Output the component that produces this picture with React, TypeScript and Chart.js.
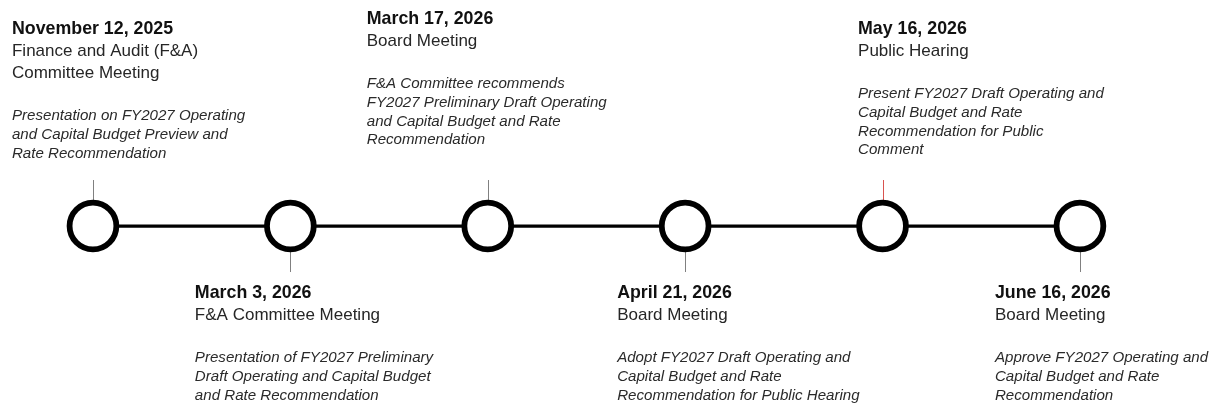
import React, { useEffect, useRef } from "react";
import { Chart, registerables } from "chart.js";

Chart.register(...registerables);

// ---- data ----
const eventDates = [
  "November 12, 2025",
  "March 3, 2026",
  "March 17, 2026",
  "April 21, 2026",
  "May 16, 2026",
  "June 16, 2026",
];

const eventTitles = [
  ["Finance and Audit (F&A)", "Committee Meeting"],
  ["F&A Committee Meeting"],
  ["Board Meeting"],
  ["Board Meeting"],
  ["Public Hearing"],
  ["Board Meeting"],
];

const eventNotes = [
  ["Presentation on FY2027 Operating", "and Capital Budget Preview and", "Rate Recommendation"],
  ["Presentation of FY2027 Preliminary", "Draft Operating and Capital Budget", "and Rate Recommendation"],
  ["F&A Committee recommends", "FY2027 Preliminary Draft Operating", "and Capital Budget and Rate", "Recommendation"],
  ["Adopt FY2027 Draft Operating and", "Capital Budget and Rate", "Recommendation for Public Hearing"],
  ["Present FY2027 Draft Operating and", "Capital Budget and Rate", "Recommendation for Public", "Comment"],
  ["Approve FY2027 Operating and", "Capital Budget and Rate", "Recommendation"],
];

const eventSide = ["above", "below", "above", "below", "above", "below"];

// ---- layout (not data) ----
const labelDx = [-81, -95.5, -121, -68, -24.5, -85];
const headingDy = [-192, 72, -202, 72, -192, 72];
const tickColors = ["#808080", "#808080", "#808080", "#808080", "#d9534f", "#808080"];

const FONT = "'Liberation Sans', Arial, sans-serif";

const labelPlugin = {
  id: "timelineLabels",
  beforeDatasetsDraw(chart: any) {
    const ctx = chart.ctx;
    const xs = chart.scales.x;
    const ys = chart.scales.y;
    const cy = ys.getPixelForValue(0);
    ctx.save();
    eventDates.forEach((_, i) => {
      const px = Math.round(xs.getPixelForValue(i)) + 0.5;
      ctx.strokeStyle = tickColors[i];
      ctx.lineWidth = 1;
      ctx.beginPath();
      if (eventSide[i] === "above") {
        ctx.moveTo(px, cy - 46);
        ctx.lineTo(px, cy - 22);
      } else {
        ctx.moveTo(px, cy + 22);
        ctx.lineTo(px, cy + 46);
      }
      ctx.stroke();
    });
    ctx.restore();
  },
  afterDatasetsDraw(chart: any) {
    const ctx = chart.ctx;
    const xs = chart.scales.x;
    const ys = chart.scales.y;
    const cy = ys.getPixelForValue(0);
    ctx.save();
    ctx.textAlign = "left";
    ctx.textBaseline = "alphabetic";
    eventDates.forEach((d, i) => {
      const x = xs.getPixelForValue(i) + labelDx[i];
      let y = cy + headingDy[i];
      ctx.fillStyle = "#111111";
      ctx.font = `bold 17.8px ${FONT}`;
      ctx.fillText(d, x, y);
      ctx.fillStyle = "#262626";
      ctx.font = `17px ${FONT}`;
      eventTitles[i].forEach((t) => {
        y += 22;
        ctx.fillText(t, x, y);
      });
      y += 42 - 18.8;
      ctx.font = `italic 15.1px ${FONT}`;
      ctx.fillStyle = "#2a2a2a";
      eventNotes[i].forEach((t) => {
        y += 18.8;
        ctx.fillText(t, x, y);
      });
    });
    ctx.restore();
  },
};

export default function App() {
  const ref = useRef<HTMLCanvasElement | null>(null);
  useEffect(() => {
    if (!ref.current) return;
    const pts = eventDates.map((_, i) => ({ x: i, y: 0 }));
    const chart = new Chart(ref.current, {
      type: "scatter",
      data: {
        datasets: [
          {
            label: "events",
            data: pts,
            showLine: false,
            pointRadius: 23.4,
            pointHoverRadius: 23.4,
            pointBorderWidth: 5.8,
            pointBackgroundColor: "#ffffff",
            pointBorderColor: "#000000",
            order: 0,
            clip: false,
          },
          {
            label: "timeline",
            data: pts,
            showLine: true,
            borderColor: "#000000",
            borderWidth: 3.2,
            pointRadius: 0,
            order: 1,
            clip: false,
          },
        ],
      },
      options: {
        animation: false,
        responsive: true,
        maintainAspectRatio: false,
        layout: { padding: 0, autoPadding: false },
        events: [],
        plugins: {
          legend: { display: false },
          tooltip: { enabled: false },
        },
        scales: {
          x: { type: "linear", min: -0.471, max: 5.669, display: false },
          y: { type: "linear", min: -1, max: 1.27, display: false },
        },
      },
      plugins: [labelPlugin],
    });
    return () => chart.destroy();
  }, []);
  return (
    <div
      style={{
        position: "fixed",
        left: 0,
        top: 0,
        width: 1212,
        height: 404,
        background: "#ffffff",
      }}
    >
      <canvas ref={ref} />
    </div>
  );
}
